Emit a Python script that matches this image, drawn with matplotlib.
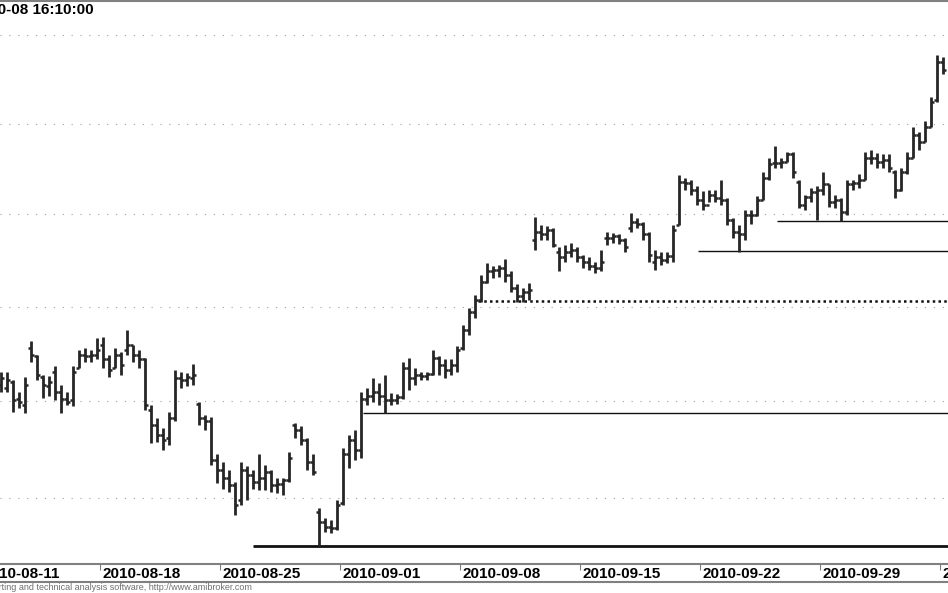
import matplotlib
matplotlib.use("Agg")
import matplotlib.pyplot as plt
from matplotlib.lines import Line2D
from matplotlib.ticker import NullLocator, NullFormatter
import numpy as np
import pandas as pd

# trading days shown (bars are 4 per day, the first bar is the last slot of 2010-08-11)
days = pd.bdate_range("2010-08-11", "2010-10-06")
bars_per_day = 4
first_slot = 3

# OHLC values, one row per trading day (08-11 and 10-06 only partly visible)
bar_open = [42170,
    42140, 42200, 42030, 41960,  42560, 42480, 42260, 42160,  42310, 42100, 42030, 42010,
    42350, 42490, 42480, 42490,  42590, 42440, 42350, 42490,  42540, 42590, 42490, 42440,
    41910, 41750, 41650, 41620,  41830, 42240, 42220, 42240,  41970, 41830, 41800, 41390,
    41290, 41210, 41140, 40980,  41290, 41240, 41170, 41210,  41270, 41140, 41150, 41190,
    41750, 41700, 41600, 41370,  40860, 40760, 40710, 40700,  40950, 41450, 41600, 41500,
    42030, 42060, 42100, 42060,  42010, 42010, 42050, 42350,  42240, 42280, 42270, 42290,
    42460, 42380, 42330, 42380,  42560, 42750, 42940, 43070,  43270, 43380, 43400, 43420,
    43340, 43200, 43120, 43160,  43720, 43810, 43780, 43830,  43590, 43530, 43590, 43610,
    43530, 43480, 43440, 43420,  43740, 43740, 43760, 43720,  43850, 43920, 43890, 43780,
    43480, 43530, 43500, 43550,  43880, 44360, 44340, 44270,  44160, 44100, 44210, 44180,
    44160, 43940, 43810, 43780,  43990, 43990, 44160, 44400,  44570, 44570, 44580, 44660,
    44360, 44100, 44190, 44240,  44270, 44330, 44140, 44160,  44020, 44330, 44340, 44380,
    44620, 44620, 44580, 44600,  44470, 44270, 44470, 44620,  44880, 44800, 44960, 45270,
    45700]
bar_high = [42310,
    42310, 42220, 42100, 42260,  42640, 42490, 42280, 42270,  42370, 42170, 42100, 42370,
    42540, 42560, 42540, 42670,  42680, 42490, 42560, 42520,  42750, 42590, 42540, 42460,
    41960, 41830, 41720, 41890,  42330, 42310, 42300, 42390,  41990, 41860, 41840, 41450,
    41370, 41290, 41170, 41370,  41330, 41290, 41450, 41340,  41290, 41210, 41210, 41480,
    41780, 41740, 41620, 41450,  40900, 40800, 40780, 40980,  41520, 41650, 41700, 42100,
    42140, 42240, 42190, 42280,  42090, 42080, 42410, 42460,  42350, 42310, 42310, 42540,
    42480, 42440, 42440, 42580,  42810, 42990, 43130, 43340,  43470, 43440, 43450, 43510,
    43380, 43240, 43200, 43260,  43970, 43880, 43870, 43850,  43640, 43670, 43690, 43640,
    43560, 43530, 43480, 43610,  43810, 43800, 43790, 43740,  44010, 43960, 43920, 43810,
    43610, 43590, 43590, 43880,  44430, 44400, 44380, 44310,  44250, 44270, 44270, 44380,
    44180, 43960, 43880, 44050,  44050, 44200, 44470, 44620,  44750, 44620, 44690, 44690,
    44380, 44210, 44290, 44310,  44470, 44330, 44210, 44180,  44380, 44380, 44440, 44690,
    44710, 44680, 44660, 44660,  44490, 44510, 44690, 44960,  44910, 45030, 45300, 45780,
    45750]
bar_low = [42100,
    42100, 41890, 41930, 41880,  42410, 42220, 42040, 42060,  42010, 41880, 41960, 41950,
    42350, 42410, 42410, 42440,  42350, 42260, 42350, 42280,  42490, 42410, 42350, 41910,
    41570, 41580, 41500, 41550,  41800, 42140, 42160, 42170,  41750, 41700, 41340, 41160,
    41100, 41060, 40830, 40930,  40980, 41100, 41090, 41090,  41060, 41050, 41030, 41170,
    41620, 41550, 41290, 41240,  40520, 40660, 40650, 40680,  40930, 41310, 41390, 41410,
    41960, 41990, 41960, 41880,  41960, 41970, 42030, 42120,  42170, 42220, 42220, 42280,
    42280, 42240, 42280, 42310,  42540, 42700, 42880, 43050,  43250, 43310, 43320, 43270,
    43160, 43050, 43050, 43070,  43610, 43720, 43720, 43640,  43380, 43480, 43530, 43480,
    43420, 43400, 43360, 43380,  43670, 43690, 43680, 43590,  43810, 43850, 43720, 43480,
    43400, 43450, 43470, 43480,  43880, 44270, 44210, 44100,  44050, 44140, 44130, 44100,
    43880, 43740, 43590, 43720,  43890, 43980, 44160, 44380,  44510, 44510, 44580, 44400,
    44070, 44050, 44140, 43940,  44210, 44080, 44070, 43930,  43990, 44270, 44290, 44380,
    44550, 44510, 44510, 44470,  44180, 44250, 44440, 44620,  44710, 44800, 44960, 45250,
    45560]
bar_close = [42240,
    42220, 42010, 41990, 42170,  42490, 42280, 42170, 42200,  42100, 42030, 41990, 42310,
    42490, 42480, 42490, 42540,  42440, 42330, 42490, 42380,  42590, 42490, 42440, 41960,
    41750, 41650, 41600, 41830,  42240, 42220, 42260, 42280,  41830, 41800, 41390, 41290,
    41210, 41140, 40930, 41290,  41240, 41170, 41210, 41270,  41140, 41150, 41190, 41410,
    41700, 41600, 41370, 41270,  40760, 40710, 40700, 40930,  41450, 41600, 41500, 42030,
    42060, 42100, 42060, 42010,  42010, 42050, 42350, 42240,  42280, 42270, 42290, 42460,
    42380, 42330, 42380, 42540,  42750, 42940, 43070, 43270,  43380, 43400, 43420, 43340,
    43200, 43120, 43160, 43180,  43810, 43780, 43830, 43670,  43530, 43590, 43610, 43530,
    43480, 43440, 43420, 43480,  43740, 43760, 43720, 43640,  43920, 43890, 43780, 43560,
    43530, 43500, 43550, 43830,  44360, 44340, 44270, 44160,  44100, 44210, 44180, 44160,
    43940, 43810, 43780, 43990,  43990, 44160, 44400, 44550,  44570, 44580, 44660, 44470,
    44100, 44190, 44240, 44270,  44330, 44140, 44160, 44020,  44330, 44340, 44380, 44620,
    44620, 44580, 44600, 44510,  44270, 44470, 44620, 44880,  44800, 44960, 45250, 45700,
    45610]

# price grid and user-drawn horizontal lines (level, starting date, bar slot within that day)
grid_levels = [41000, 42000, 43000, 44000, 45000, 46000]
support_levels = [40520, 41880, 43600, 43930]
support_start = [("2010-08-26", 1.5), ("2010-09-01", 3.8), ("2010-09-21", 3.7), ("2010-09-27", 0.8)]
dotted_level = 43060
dotted_start = ("2010-09-08", 3.0)
support_width = [2.0, 1.0, 1.0, 1.0]

label_dates = ["2010-08-11", "2010-08-18", "2010-08-25", "2010-09-01", "2010-09-08",
               "2010-09-15", "2010-09-22", "2010-09-29", "2010-10-06"]
title = "2010-10-08 16:10:00"
footer = "AmiBroker - charting and technical analysis software, http://www.amibroker.com"


def day_slot(date):
    return days.get_loc(pd.Timestamp(date)) * bars_per_day


W, H = 948, 593
fig = plt.figure(figsize=(W / 100, H / 100), dpi=100)
ax = fig.add_axes([0, 29 / H, 1, 563 / H])
ax.set_yscale("log")
ax.set_ylim(40336, 46396)
ax.set_xlim(20 / 6, 968 / 6)

n = len(bar_close)
assert len(bar_open) == len(bar_high) == len(bar_low) == n
x = first_slot + 0.5 + np.arange(n)
bar_col = "#262626"
ax.vlines(x, bar_low, bar_high, color=bar_col, lw=2.0, zorder=3)
ax.hlines(bar_open, x - 0.48, x, color=bar_col, lw=1.8, zorder=3)
ax.hlines(bar_close, x, x + 0.48, color=bar_col, lw=1.8, zorder=3)

for lvl, (d, off), lw in zip(support_levels, support_start, support_width):
    ax.hlines(lvl, day_slot(d) + off, 170, color="#111111", lw=lw, zorder=2)
ax.hlines(dotted_level, day_slot(dotted_start[0]) + dotted_start[1], 170, color="#111111",
          lw=1.8, linestyles=(0, (1, 1.3)), zorder=2)

ax.set_yticks(grid_levels)
ax.yaxis.set_minor_locator(NullLocator())
ax.yaxis.set_major_formatter(NullFormatter())
ax.yaxis.set_minor_formatter(NullFormatter())
ax.tick_params(axis="y", length=0)
ax.grid(axis="y", color="#a0a0a0", lw=0.8, linestyle=(0, (1, 7)))

ticks = [day_slot(d) for d in label_dates]
ax.set_xticks([t for t in ticks if 20 / 6 <= t <= 968 / 6])
ax.xaxis.set_major_formatter(NullFormatter())
ax.tick_params(axis="x", direction="out", length=4, width=0.8, color="#808080")

for spine in ["left", "right"]:
    ax.spines[spine].set_visible(False)
for spine in ["top", "bottom"]:
    ax.spines[spine].set_color("#808080")
    ax.spines[spine].set_linewidth(1.5)

font = ["Liberation Sans", "DejaVu Sans"]
for t, lab in zip(ticks, label_dates):
    ax.text(t + 0.45, -2.5 / 563, lab, transform=ax.get_xaxis_transform(), ha="left", va="top",
            fontsize=11, fontweight="bold", family=font, clip_on=False)

fig.add_artist(Line2D([0, 1], [11 / H, 11 / H], transform=fig.transFigure, color="#808080", lw=1.5))

# title and footer are cut by the left edge of the picture, as in the original screenshot
renderer = fig.canvas.get_renderer()
probe = fig.text(0, 0, "2010-1", fontsize=11, fontweight="bold", family=font)
pre_w = probe.get_window_extent(renderer).width
probe.remove()
fig.text(-(pre_w + 2) / W, 1 - 3 / H, title, ha="left", va="top", fontsize=11,
         fontweight="bold", family=font)

probe = fig.text(0, 0, "AmiBroker - cha", fontsize=6.5, family=font)
pre_w = probe.get_window_extent(renderer).width
probe.remove()
fig.text(-(pre_w + 1) / W, 5.5 / H, footer, ha="left", va="center", fontsize=6.5,
         color="#707070", family=font)

fig.savefig("out.png", dpi=100)
